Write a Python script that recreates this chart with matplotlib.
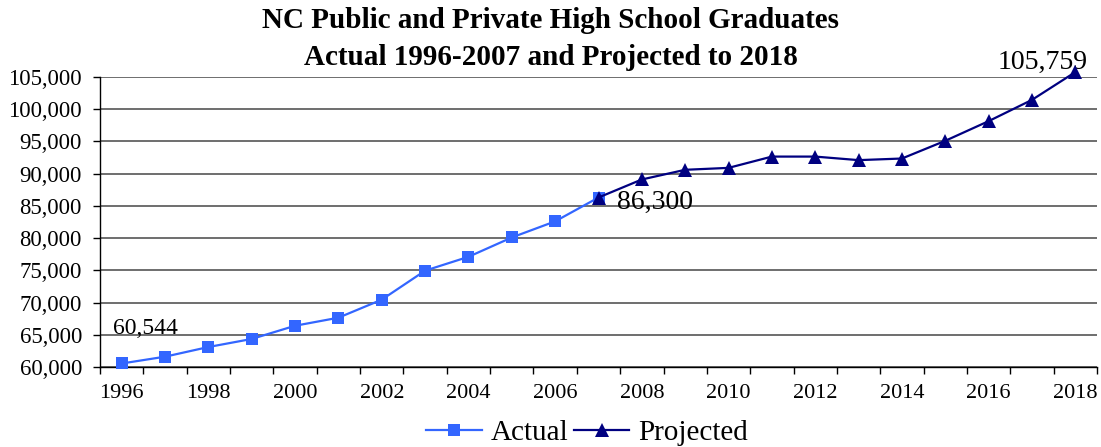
import matplotlib
matplotlib.use("Agg")
import matplotlib.pyplot as plt
from matplotlib.ticker import FuncFormatter, MultipleLocator, FixedLocator

# Graduates by year
actual_years = [1996, 1997, 1998, 1999, 2000, 2001, 2002, 2003, 2004, 2005, 2006, 2007]
actual_vals = [60544, 61600, 63100, 64350, 66400, 67650, 70450, 74950, 77100, 80100, 82600, 86300]

projected_years = [2007, 2008, 2009, 2010, 2011, 2012, 2013, 2014, 2015, 2016, 2017, 2018]
projected_vals = [86300, 89100, 90600, 90900, 92650, 92650, 92100, 92350, 95100, 98150, 101450, 105759]

x_tick_labels = [1996, 1998, 2000, 2002, 2004, 2006, 2008, 2010, 2012, 2014, 2016, 2018]

plt.rcParams["font.family"] = ["Liberation Serif", "DejaVu Serif"]

fig = plt.figure(figsize=(11.01, 4.47), dpi=100)
ax = fig.add_axes([100 / 1101, 1 - 367 / 447, 997 / 1101, 290 / 447])

actual_color = "#3366FF"
proj_color = "#000080"

ax.plot(actual_years, actual_vals, color=actual_color, lw=1.6, marker="s",
        markersize=8.5, markeredgewidth=0, label="Actual", zorder=3, clip_on=False)
ax.plot(projected_years, projected_vals, color=proj_color, lw=1.6, marker="^",
        markersize=9.5, markeredgewidth=0, label="Projected", zorder=4, clip_on=False)

ax.set_xlim(1995.5, 2018.5)
ax.set_ylim(60000, 105000)

ax.yaxis.set_major_locator(MultipleLocator(5000))
ax.yaxis.set_major_formatter(FuncFormatter(lambda v, p: f"{int(v):,}"))
ax.grid(axis="y", color="#555555", lw=1.2)
ax.set_axisbelow(True)

ax.xaxis.set_major_locator(FixedLocator(x_tick_labels))
ax.xaxis.set_minor_locator(FixedLocator([y + 0.5 for y in range(1995, 2019)]))
ax.tick_params(axis="x", which="major", length=0, pad=12, labelsize=16)
ax.tick_params(axis="x", which="minor", length=5, width=1, color="black")
ax.tick_params(axis="y", which="major", length=5, width=1, labelsize=16.4, pad=8)

for s in ("top", "right"):
    ax.spines[s].set_visible(False)
for s in ("left", "bottom"):
    ax.spines[s].set_linewidth(1.0)
    ax.spines[s].set_color("black")

# Value labels on first, last-actual and last-projected points
label_kw = dict(textcoords="offset points", annotation_clip=False)
ax.annotate(f"{actual_vals[0]:,}", (actual_years[0], actual_vals[0]),
            xytext=(17, 25), ha="center", va="center", fontsize=17, **label_kw)
ax.annotate(f"{actual_vals[-1]:,}", (actual_years[-1], actual_vals[-1]),
            xytext=(13, -3.5), ha="left", va="center", fontsize=20, **label_kw)
ax.annotate(f"{projected_vals[-1]:,}", (projected_years[-1], projected_vals[-1]),
            xytext=(9, 7), ha="right", va="center", fontsize=20, **label_kw)

fig.text(0.5, 1 - 39 / 447, "NC Public and Private High School Graduates\nActual 1996-2007 and Projected to 2018",
         ha="center", va="center", fontsize=21, fontweight="bold", linespacing=1.45)

fig.legend(loc="center", bbox_to_anchor=(587 / 1101, 1 - 433 / 447), ncol=2,
           frameon=False, fontsize=21, handlelength=1.9, handletextpad=0.3,
           columnspacing=0.2, borderpad=0)

fig.savefig("out.png", dpi=100)
